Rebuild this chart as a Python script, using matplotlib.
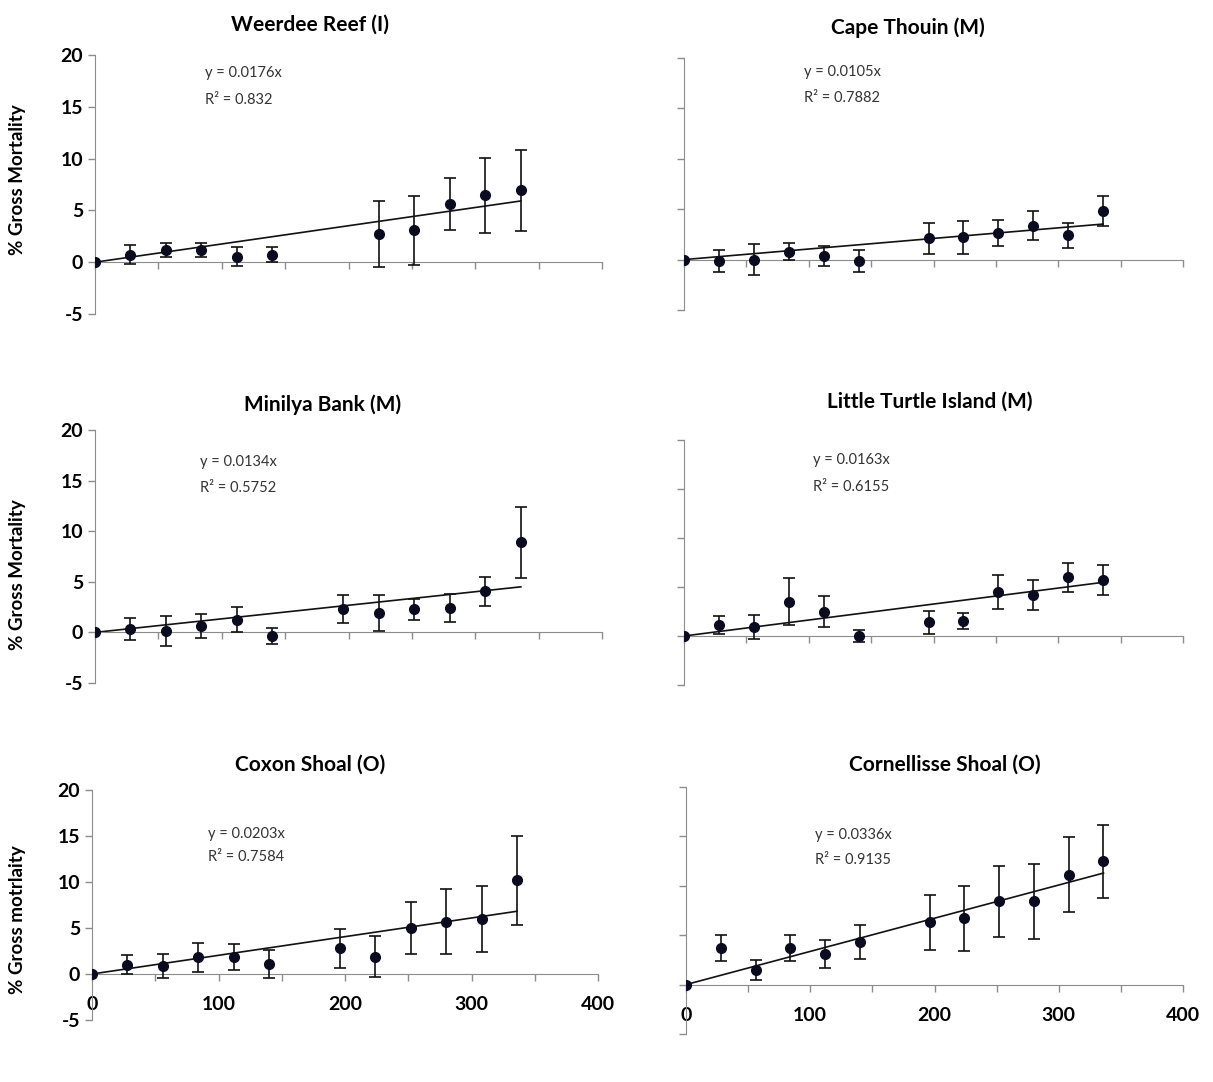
import matplotlib
matplotlib.use("Agg")
import matplotlib.pyplot as plt

plt.rcParams['font.family'] = ['Lato', 'DejaVu Sans']

# sampling days
days = [0, 28, 56, 84, 112, 140, 196, 224, 252, 280, 308, 336]
days_weerdee = [0, 28, 56, 84, 112, 140, 224, 252, 280, 308, 336]

sites = ["Weerdee Reef (I)", "Cape Thouin (M)", "Minilya Bank (M)",
         "Little Turtle Island (M)", "Coxon Shoal (O)", "Cornellisse Shoal (O)"]

weerdee_mean = [0, 0.74, 1.2, 1.2, 0.55, 0.74, 2.74, 3.06, 5.65, 6.45, 6.94]
weerdee_err = [0, 0.95, 0.7, 0.7, 0.95, 0.75, 3.2, 3.3, 2.5, 3.6, 3.9]

thouin_mean = [0, -0.1, 0.0, 0.8, 0.33, -0.1, 2.1, 2.2, 2.6, 3.37, 2.4, 4.84]
thouin_err = [0, 1.1, 1.5, 0.8, 1.0, 1.1, 1.5, 1.6, 1.3, 1.45, 1.2, 1.5]

minilya_mean = [0, 0.33, 0.16, 0.62, 1.27, -0.33, 2.29, 1.93, 2.29, 2.42, 4.05, 8.9]
minilya_err = [0, 1.1, 1.47, 1.15, 1.2, 0.8, 1.4, 1.8, 1.05, 1.35, 1.4, 3.5]

turtle_mean = [0, 1.1, 0.9, 3.5, 2.5, 0.0, 1.4, 1.5, 4.5, 4.2, 6.0, 5.7]
turtle_err = [0, 0.9, 1.2, 2.4, 1.6, 0.6, 1.2, 0.8, 1.7, 1.5, 1.5, 1.55]

coxon_mean = [0, 1.03, 0.85, 1.82, 1.82, 1.08, 2.79, 1.9, 4.98, 5.7, 6.0, 10.17]
coxon_err = [0, 1.0, 1.3, 1.6, 1.4, 1.55, 2.15, 2.2, 2.83, 3.55, 3.6, 4.84]

cornel_mean = [0, 3.7, 1.45, 3.7, 3.1, 4.3, 6.3, 6.7, 8.45, 8.45, 11.1, 12.5]
cornel_err = [0, 1.27, 1.03, 1.27, 1.45, 1.73, 2.8, 3.3, 3.6, 3.8, 3.8, 3.7]

slopes = ["0.0176", "0.0105", "0.0134", "0.0163", "0.0203", "0.0336"]
r2_text = ["0.832", "0.7882", "0.5752", "0.6155", "0.7584", "0.9135"]

ylabels = ["% Gross Mortality", "% Gross Mortality", "% Gross motrlaity"]

xs = [days_weerdee, days, days, days, days, days]
means = [weerdee_mean, thouin_mean, minilya_mean, turtle_mean, coxon_mean, cornel_mean]
errs = [weerdee_err, thouin_err, minilya_err, turtle_err, coxon_err, cornel_err]

W, H = 1213, 1082
fig = plt.figure(figsize=(W / 100, H / 100), dpi=100)


def px_box(x0, x1, ytop, ybot):
    return [x0 / W, 1 - ybot / H, (x1 - x0) / W, (ybot - ytop) / H]


# panel boxes in pixels: left, right, top (y=20), bottom (y=-5)
boxes = [(95, 602, 55, 314), (684, 1183, 58, 310),
         (95, 602, 430, 683), (684, 1183, 440, 685),
         (92, 598, 790, 1020), (686, 1183, 787, 1034)]
title_pos = [(310, 25), (908, 28), (323, 405), (930, 402), (310, 765), (945, 765)]
eq_pos = [(0.217, 0.93, 0.826), (0.24, 0.944, 0.84), (0.207, 0.874, 0.77),
          (0.259, 0.918, 0.81), (0.23, 0.81, 0.71), (0.26, 0.806, 0.705)]
ylab_y = [180, 575, 920]

axis_grey = '#8c8c8c'
dot_col = '#0b0b1f'

for i in range(6):
    ax = fig.add_axes(px_box(*boxes[i]))
    x = xs[i]
    k = float(slopes[i])
    ax.errorbar(x, means[i], yerr=errs[i], fmt='o', color=dot_col, ms=7,
                ecolor='#111111', elinewidth=1.2, capsize=4, capthick=1.2, zorder=3)
    # linear trendline through the origin
    ax.plot([0, x[-1]], [0, k * x[-1]], color='#111111', lw=1.2, zorder=2)

    ax.set_xlim(0, 400)
    ax.set_ylim(-5, 20)
    for s in ['top', 'right']:
        ax.spines[s].set_visible(False)
    ax.spines['bottom'].set_position(('data', 0))
    ax.spines['left'].set_color(axis_grey)
    ax.spines['bottom'].set_color(axis_grey)

    ax.set_yticks([-5, 0, 5, 10, 15, 20])
    ax.set_xticks(range(0, 401, 50))
    ax.tick_params(axis='both', colors=axis_grey, length=5, width=1)
    if i % 2 == 0:
        ax.set_yticklabels(['-5', '0', '5', '10', '15', '20'],
                           fontsize=14, fontweight='bold', color='black')
    else:
        ax.set_yticklabels([])
    if i >= 4:
        ax.set_xticklabels(['0', '', '100', '', '200', '', '300', '', '400'],
                           fontsize=14, fontweight='bold', color='black')
        ax.tick_params(axis='x', pad=11)
    else:
        ax.set_xticklabels([])
    ax.patch.set_alpha(0)

    ex, ey1, ey2 = eq_pos[i]
    ax.text(ex, ey1, "y = " + slopes[i] + "x", transform=ax.transAxes,
            fontsize=10.5, color='#333333', va='center')
    ax.text(ex, ey2, "R² = " + r2_text[i], transform=ax.transAxes,
            fontsize=10.5, color='#333333', va='center')

    tx, ty = title_pos[i]
    fig.text(tx / W, 1 - ty / H, sites[i], ha='center', va='center',
             fontsize=15, fontweight='bold')

for r in range(3):
    fig.text(18 / W, 1 - ylab_y[r] / H, ylabels[r], rotation=90, ha='center',
             va='center', fontsize=13.5, fontweight='bold')

fig.savefig("out.png", dpi=100)
